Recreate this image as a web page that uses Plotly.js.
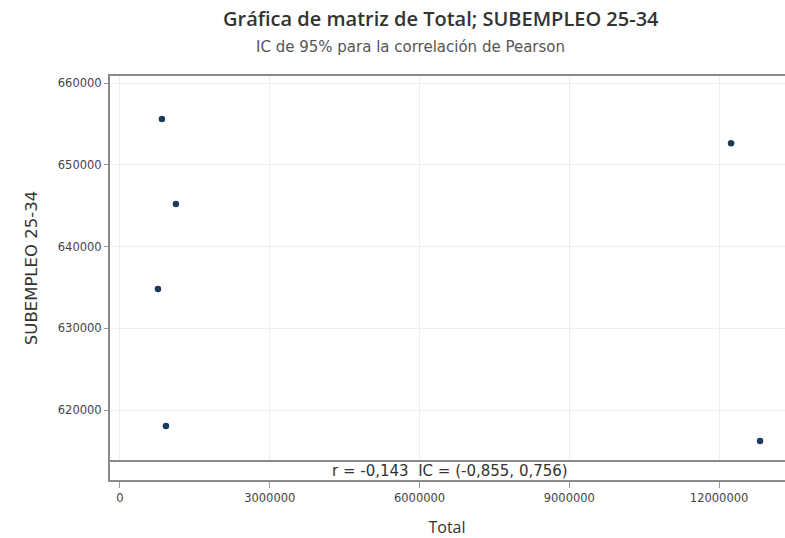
<!DOCTYPE html>
<html>
<head>
<meta charset="utf-8">
<script src="https://cdn.plot.ly/plotly-3.0.1.min.js"></script>
<style>html,body{margin:0;padding:0;background:#fff;}#chart{width:785px;height:538px;}</style>
</head>
<body>
<div id="chart"></div>
<script>
// Data
var total = [840000, 1120000, 760000, 920000, 12240000, 12820000];
var subempleo = [655600, 645200, 634800, 618050, 652650, 616200];
var xTickVals = [0, 3000000, 6000000, 9000000, 12000000];
var xTickText = ['0', '3000000', '6000000', '9000000', '12000000'];
var yTickVals = [620000, 630000, 640000, 650000, 660000];
var yTickText = ['620000', '630000', '640000', '650000', '660000'];
var titleText = 'Gráfica de matriz de Total; SUBEMPLEO 25-34';
var subtitleText = 'IC de 95% para la correlación de Pearson';
var corrText = 'r = -0,143  IC = (-0,855, 0,756)';

var stripFrac = 20 / 406;
var fontFam = '"Open Sans", "Noto Sans", sans-serif';
var wideFam = '"DejaVu Sans", "Open Sans", sans-serif';

var data = [
  {
    type: 'scatter', mode: 'markers', x: total, y: subempleo,
    xaxis: 'x', yaxis: 'y',
    marker: {color: '#1b3a5c', size: 6.5},
    hoverinfo: 'x+y', showlegend: false
  },
  {
    type: 'scatter', mode: 'markers', x: [], y: [],
    xaxis: 'x2', yaxis: 'y2', showlegend: false
  }
];

var xRange = [-220000, 13320000];

var layout = {
  width: 785, height: 538,
  margin: {l: 109, r: 0, t: 75, b: 57},
  paper_bgcolor: '#ffffff', plot_bgcolor: '#ffffff',
  font: {family: fontFam, color: '#333'},
  showlegend: false,
  xaxis: {
    domain: [0, 1], anchor: 'y', range: xRange,
    tickvals: xTickVals, showticklabels: false, ticks: '',
    showgrid: true, gridcolor: '#ededed', gridwidth: 1,
    zeroline: false, showline: false
  },
  yaxis: {
    domain: [stripFrac, 1], anchor: 'x', range: [613760, 661000],
    tickvals: yTickVals, ticktext: yTickText,
    ticks: 'outside', ticklen: 4, tickcolor: '#999',
    tickfont: {size: 11.5, color: '#444', family: wideFam},
    showgrid: true, gridcolor: '#ededed', gridwidth: 1,
    zeroline: false, showline: false,
    title: {text: 'SUBEMPLEO 25-34', font: {size: 16.5, color: '#333', family: wideFam}, standoff: 16}
  },
  xaxis2: {
    domain: [0, 1], anchor: 'y2', range: xRange,
    tickvals: xTickVals, ticktext: xTickText,
    ticks: 'outside', ticklen: 6, tickcolor: '#999',
    tickfont: {size: 11.5, color: '#444', family: wideFam},
    showgrid: false, zeroline: false, showline: false,
    title: {text: 'Total', font: {size: 16, color: '#333', family: fontFam}, standoff: 19}
  },
  yaxis2: {
    domain: [0, stripFrac], anchor: 'x2', range: [0, 1],
    showticklabels: false, ticks: '', showgrid: false, zeroline: false, showline: false
  },
  shapes: [
    {type: 'rect', xref: 'paper', yref: 'paper', x0: 0, x1: 1.02, y0: 0, y1: 1,
     line: {color: '#8a8a8a', width: 2}, fillcolor: 'rgba(0,0,0,0)'},
    {type: 'line', xref: 'paper', yref: 'paper', x0: 0, x1: 1.02, y0: stripFrac, y1: stripFrac,
     line: {color: '#8a8a8a', width: 2}}
  ],
  annotations: [
    {text: titleText, xref: 'paper', yref: 'paper', x: 0.5, y: 1, xanchor: 'center', yanchor: 'bottom',
     xshift: -6, yshift: 41, showarrow: false,
     font: {size: 20, color: '#333', family: fontFam, weight: 600}},
    {text: subtitleText, xref: 'paper', yref: 'paper', x: 0.5, y: 1, xanchor: 'center', yanchor: 'bottom',
     xshift: -37, yshift: 17, showarrow: false,
     font: {size: 15, color: '#555', family: wideFam}},
    {text: corrText, xref: 'x2', yref: 'y2', x: 6600000, y: 0.5, xanchor: 'center', yanchor: 'middle',
     showarrow: false, font: {size: 15, color: '#333', family: wideFam}}
  ]
};

Plotly.newPlot('chart', data, layout, {displayModeBar: false, staticPlot: true});
</script>
</body>
</html>
